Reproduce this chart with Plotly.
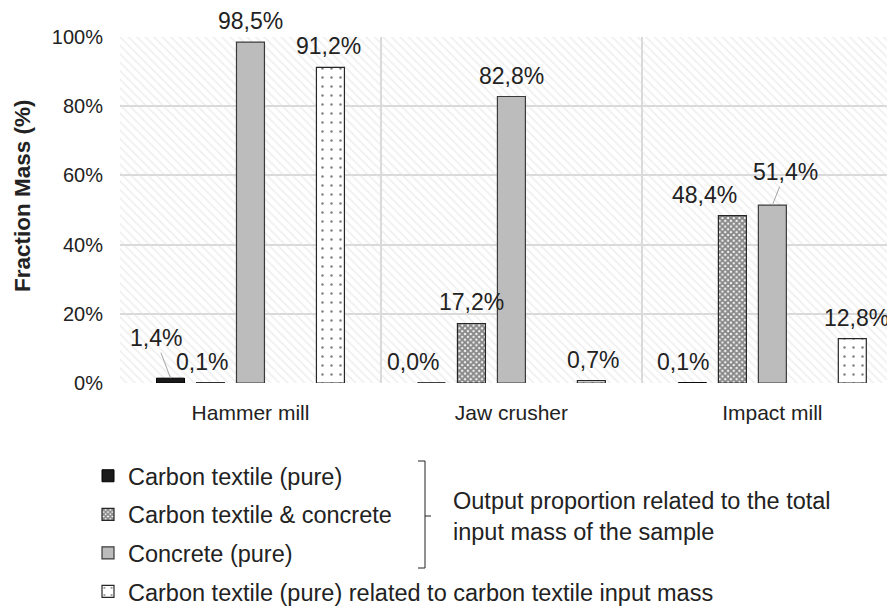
import plotly.graph_objects as go

# data
categories = ['Hammer mill', 'Jaw crusher', 'Impact mill']
ct_pure = [1.4, 0.0, 0.1]
ct_concrete = [0.1, 17.2, 48.4]
concrete_pure = [98.5, 82.8, 51.4]
ct_rel_input = [91.2, 0.7, 12.8]

series_names = ['Carbon textile (pure)', 'Carbon textile & concrete',
                'Concrete (pure)', 'Carbon textile (pure) related to carbon textile input mass']
bracket_text = 'Output proportion related to the total<br>input mass of the sample'
y_title = 'Fraction Mass (%)'

FONT = 'Liberation Sans, Arial, sans-serif'
TXT = '#222222'
GRID = '#d9d9d9'

# the page body adds an 8px offset, so the figure is laid out 8px up/left
OFF = 8
W, H = 895, 611
L, R, T, B = 120 - OFF, OFF, 37 - OFF, 228 + OFF
PW, PH = W - L - R, H - T - B

def px_x(p):  # screen pixel -> paper
    return (p - OFF - L) / PW

def px_y(p):
    return (H - B - (p - OFF)) / PH

BARGAP = 0.234
N_SLOTS = 5
slot_w = (1 - BARGAP) / N_SLOTS

fig = go.Figure()

# hatched background on the main axes
fig.add_trace(go.Bar(
    x=[0.5], y=[100], width=[1], xaxis='x', yaxis='y',
    marker=dict(color='rgba(0,0,0,0)', line=dict(width=0),
                pattern=dict(shape='\\', fgcolor='#e0e0e0', size=6, solidity=0.3)),
    hoverinfo='skip', showlegend=False))

styles = [
    dict(color='#1a1a1a', line=dict(color='#000000', width=1)),
    dict(color='#ffffff', line=dict(color='#262626', width=1.2),
         pattern=dict(shape='x', fgcolor='#111111', bgcolor='#ffffff', size=4, solidity=0.75)),
    dict(color='#bcbcbc', line=dict(color='#3a3a3a', width=1.2)),
    dict(color='#ffffff', line=dict(color='#262626', width=1.2),
         pattern=dict(shape='.', fgcolor='#000000', bgcolor='#ffffff', size=9, solidity=0.06)),
]
values = [ct_pure, ct_concrete, concrete_pure, ct_rel_input]
slots = [0, 1, 2, 4]

for i, (name, vals, st) in enumerate(zip(series_names, values, styles)):
    if i == 3:
        # empty slot between concrete and the last series
        fig.add_trace(go.Bar(x=categories, y=[None] * 3, xaxis='x2', yaxis='y',
                             showlegend=False, hoverinfo='skip'))
    fig.add_trace(go.Bar(x=categories, y=vals, name=name, xaxis='x2', yaxis='y',
                         marker=st, legendgroup=str(i)))

# data labels
lab_font = dict(size=23, color=TXT, family=FONT)
label_dx = [[0, -8, 0, -2], [-18, 0, 0, 2], [-9, -28, None, 4]]
for c in range(3):
    for k, (vals, s) in enumerate(zip(values, slots)):
        v = vals[c]
        xpos = c + (s - 2) * slot_w
        text = f'{v:.1f}%'.replace('.', ',')
        if (c, k) == (0, 0):
            fig.add_annotation(x=xpos, y=v, xref='x2', yref='y', text=text,
                               showarrow=True, arrowhead=0, arrowwidth=1, arrowcolor='#a6a6a6',
                               ax=-15, ay=-40, font=lab_font)
        elif (c, k) == (2, 2):
            fig.add_annotation(x=xpos, y=v, xref='x2', yref='y', text=text,
                               showarrow=True, arrowhead=0, arrowwidth=1, arrowcolor='#a6a6a6',
                               ax=13, ay=-33, font=lab_font)
        else:
            fig.add_annotation(x=xpos, y=v, xref='x2', yref='y', text=text,
                               showarrow=False, yanchor='middle', yshift=21,
                               xshift=label_dx[c][k], font=lab_font)

# y axis title
fig.add_annotation(xref='paper', yref='paper', x=px_x(22), y=px_y(195), text=f'<b>{y_title}</b>',
                   textangle=-90, showarrow=False, xanchor='center', yanchor='middle',
                   font=dict(size=22.5, color=TXT, family=FONT))

# bracket
bx0, bx1, bxm = px_x(418), px_x(425), px_x(431)
by0, by1, bym = px_y(461), px_y(568), px_y(516)
line = dict(color=TXT, width=1)
fig.add_shape(type='path', xref='paper', yref='paper',
              path=f'M{bx0},{by0} L{bx1},{by0} L{bx1},{by1} L{bx0},{by1}', line=line)
fig.add_shape(type='line', xref='paper', yref='paper', x0=bx1, x1=bxm, y0=bym, y1=bym, line=line)
fig.add_annotation(xref='paper', yref='paper', x=px_x(451), y=bym, xanchor='left', yanchor='middle',
                   text=bracket_text, showarrow=False, align='left',
                   font=dict(size=23.5, color=TXT, family=FONT))

fig.update_layout(
    width=W, height=H,
    margin=dict(l=L, r=R, t=T, b=B, autoexpand=False),
    plot_bgcolor='white', paper_bgcolor='white',
    font=dict(family=FONT, color=TXT, size=20),
    barmode='group', bargap=BARGAP, bargroupgap=0.3,
    xaxis=dict(range=[0, 1], visible=False, fixedrange=True, automargin=False),
    xaxis2=dict(overlaying='x', anchor='y', type='category', range=[-0.5, 2.47],
                tickson='boundaries', showgrid=True, gridcolor=GRID, gridwidth=1.5,
                ticks='', ticklabelstandoff=15, tickfont=dict(size=21), showline=False,
                automargin=False),
    yaxis=dict(range=[0, 100], dtick=20, ticksuffix='%', showgrid=True, gridcolor=GRID,
               gridwidth=1.5, zeroline=False, ticklabelstandoff=16, tickfont=dict(size=20),
               automargin=False),
    legend=dict(orientation='v', xref='container', yref='container',
                x=80 / W, y=1 - 446 / H, xanchor='left', yanchor='top',
                font=dict(size=23.5), tracegroupgap=5, itemwidth=30, bgcolor='rgba(0,0,0,0)'),
    showlegend=True,
)

fig.write_html('out.html')
